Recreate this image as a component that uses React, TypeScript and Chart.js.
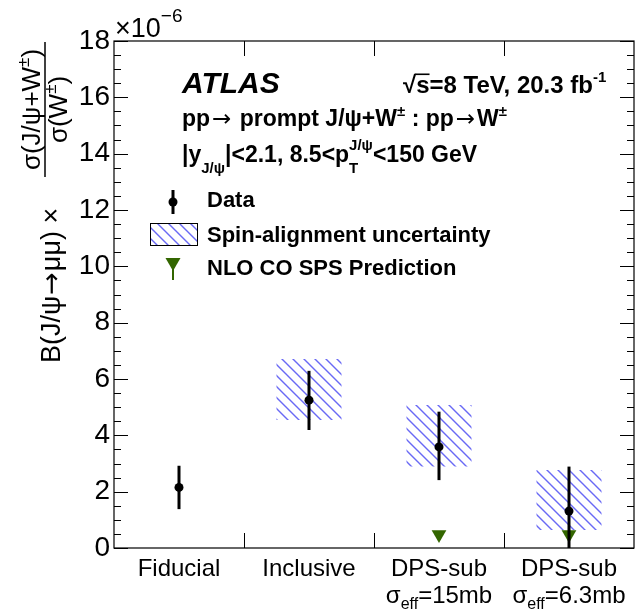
import React, { useEffect, useRef } from 'react';
import { Chart, registerables } from 'chart.js';

Chart.register(...registerables);

// ---------- data ----------
const categoryKeys = ['Fiducial', 'Inclusive', 'DPS15', 'DPS63'];
const labelLine1 = ['Fiducial', 'Inclusive', 'DPS-sub', 'DPS-sub'];
const labelSigmaEff = [null, null, '15mb', '6.3mb'];

const dataValues = [2.15, 5.25, 3.59, 1.31];
const dataErrLow = [1.38, 4.19, 2.41, -0.3];
const dataErrHigh = [2.92, 6.29, 4.84, 2.89];

const spinLow = [null, 4.54, 2.89, 0.64];
const spinHigh = [null, 6.71, 5.08, 2.77];

const nloValues = [null, null, 0.48, 0.48];

const yTickValues = [0, 2, 4, 6, 8, 10, 12, 14, 16, 18];
const yMinorStep = 0.5;

const FONT = '"Liberation Sans", Arial, Helvetica, sans-serif';
const ARROWFONT = '"DejaVu Sans", sans-serif';
const GREEN = '#336600';
const HATCH = 'rgb(105,105,245)';

type Seg = { t: string; size: number; dy?: number; bold?: boolean; italic?: boolean; noAdv?: boolean; over?: boolean; fam?: string; pad?: number };

function drawRich(ctx: CanvasRenderingContext2D, x: number, y: number, segs: Seg[], align: 'left' | 'center' = 'left') {
  const setFont = (s: Seg) => {
    ctx.font = `${s.italic ? 'italic ' : ''}${s.bold ? 'bold ' : ''}${s.size}px ${s.fam || FONT}`;
  };
  let total = 0;
  let pending = 0;
  for (const s of segs) {
    setFont(s);
    const w = ctx.measureText(s.t).width + 2 * (s.pad || 0);
    if (s.noAdv) { pending = w; continue; }
    total += Math.max(w, pending);
    pending = 0;
  }
  let cx = align === 'center' ? x - total / 2 : x;
  pending = 0;
  ctx.textAlign = 'left';
  ctx.textBaseline = 'alphabetic';
  for (const s of segs) {
    setFont(s);
    const w = ctx.measureText(s.t).width + 2 * (s.pad || 0);
    ctx.fillText(s.t, cx + (s.pad || 0), y + (s.dy || 0));
    if (s.over) {
      ctx.save();
      ctx.lineWidth = 1.6;
      ctx.beginPath();
      const oy = y + (s.dy || 0) - s.size * 0.78;
      ctx.moveTo(cx - 1, oy);
      ctx.lineTo(cx + w, oy);
      ctx.stroke();
      ctx.restore();
    }
    if (s.noAdv) { pending = w; continue; }
    cx += Math.max(w, pending);
    pending = 0;
  }
  return total;
}

function makeHatch(): CanvasPattern | string {
  const s = 11;
  const c = document.createElement('canvas');
  c.width = s;
  c.height = s;
  const g = c.getContext('2d');
  if (!g) return HATCH;
  g.strokeStyle = HATCH;
  g.lineWidth = 1.4;
  g.beginPath();
  for (const k of [-s, 0, s]) {
    g.moveTo(k - 1, -1);
    g.lineTo(k + s + 1, s + 1);
  }
  g.stroke();
  return g.createPattern(c, 'repeat') || HATCH;
}

export default function App() {
  const ref = useRef<HTMLCanvasElement | null>(null);

  useEffect(() => {
    if (!ref.current) return;
    const hatch = makeHatch();

    const errorBarPlugin = {
      id: 'errorBars',
      afterDatasetDraw(chart: any, args: any) {
        if (args.index !== 1) return;
        const { ctx, chartArea } = chart;
        const xs = chart.scales.x;
        const ys = chart.scales.y;
        ctx.save();
        ctx.beginPath();
        ctx.rect(chartArea.left, chartArea.top, chartArea.right - chartArea.left, chartArea.bottom - chartArea.top);
        ctx.clip();
        ctx.strokeStyle = '#000';
        ctx.lineWidth = 3;
        for (let i = 0; i < dataValues.length; i++) {
          const px = xs.getPixelForValue(i);
          ctx.beginPath();
          ctx.moveTo(px, ys.getPixelForValue(dataErrLow[i]));
          ctx.lineTo(px, ys.getPixelForValue(dataErrHigh[i]));
          ctx.stroke();
        }
        ctx.restore();
      },
    };

    const decorPlugin = {
      id: 'decor',
      afterDraw(chart: any) {
        const { ctx, chartArea } = chart;
        const { left, right, top, bottom } = chartArea;
        const xs = chart.scales.x;
        const ys = chart.scales.y;
        ctx.save();
        ctx.fillStyle = '#000';
        ctx.strokeStyle = '#000';
        ctx.lineWidth = 1.2;
        ctx.strokeRect(left, top, right - left, bottom - top);
        ctx.beginPath();
        for (let v = ys.min; v <= ys.max + 1e-9; v += yMinorStep) {
          const py = Math.round(ys.getPixelForValue(v)) + 0.5;
          const major = yTickValues.some((t) => Math.abs(t - v) < 1e-6);
          const len = major ? 14 : 7;
          ctx.moveTo(left, py);
          ctx.lineTo(left + len, py);
          ctx.moveTo(right, py);
          ctx.lineTo(right - len, py);
        }
        for (let i = 0; i < categoryKeys.length - 1; i++) {
          const px = Math.round(xs.getPixelForValue(i + 0.5)) + 0.5;
          ctx.moveTo(px, bottom);
          ctx.lineTo(px, bottom - 15);
          ctx.moveTo(px, top);
          ctx.lineTo(px, top + 15);
        }
        ctx.lineWidth = 1;
        ctx.stroke();

        // x labels
        for (let i = 0; i < categoryKeys.length; i++) {
          const px = xs.getPixelForValue(i);
          drawRich(ctx, px, 576, [{ t: labelLine1[i], size: 24 }], 'center');
          const se = labelSigmaEff[i];
          if (se) {
            drawRich(ctx, px, 603, [
              { t: 'σ', size: 24 },
              { t: 'eff', size: 16, dy: 6 },
              { t: '=' + se, size: 24 },
            ], 'center');
          }
        }

        // ×10^-6
        drawRich(ctx, left + 1, 37, [
          { t: '×10', size: 27 },
          { t: '−6', size: 19, dy: -15 },
        ]);

        // y title (rotated)
        ctx.save();
        ctx.translate(0, 363);
        ctx.rotate(-Math.PI / 2);
        drawRich(ctx, 0, 60, [
          { t: 'B(J/ψ', size: 27 },
          { t: '→', size: 27, fam: ARROWFONT, pad: 1 },
          { t: 'μμ) ×', size: 27 },
        ]);
        const u0 = 186, u1 = 321, uc = (u0 + u1) / 2;
        ctx.lineWidth = 1.5;
        ctx.beginPath();
        ctx.moveTo(u0, 45);
        ctx.lineTo(u1, 45);
        ctx.stroke();
        drawRich(ctx, uc, 40, [
          { t: 'σ(J/ψ+W', size: 26 },
          { t: '±', size: 17, dy: -11 },
          { t: ')', size: 26 },
        ], 'center');
        drawRich(ctx, uc, 67, [
          { t: 'σ(W', size: 26 },
          { t: '±', size: 17, dy: -11 },
          { t: ')', size: 26 },
        ], 'center');
        ctx.restore();

        // annotations
        drawRich(ctx, 182, 93, [{ t: 'ATLAS', size: 30, bold: true, italic: true }]);
        drawRich(ctx, 403, 93, [
          { t: '√', size: 24, bold: true },
          { t: 's', size: 24, bold: true, over: true },
          { t: '=8 TeV, 20.3 fb', size: 24, bold: true },
          { t: '-1', size: 15, bold: true, dy: -11 },
        ]);
        drawRich(ctx, 182, 126, [
          { t: 'pp', size: 23, bold: true },
          { t: '→', size: 23, fam: ARROWFONT, pad: 2 },
          { t: ' prompt J/ψ+W', size: 23, bold: true },
          { t: '±', size: 15, bold: true, dy: -10 },
          { t: ' : pp', size: 23, bold: true },
          { t: '→', size: 23, fam: ARROWFONT, pad: 2 },
          { t: 'W', size: 23, bold: true },
          { t: '±', size: 15, bold: true, dy: -10 },
        ]);
        drawRich(ctx, 182, 162, [
          { t: '|y', size: 23, bold: true },
          { t: 'J/ψ', size: 15, bold: true, dy: 11 },
          { t: '|<2.1, 8.5<p', size: 23, bold: true },
          { t: 'T', size: 15, bold: true, dy: 11, noAdv: true },
          { t: 'J/ψ', size: 15, bold: true, dy: -12 },
          { t: '<150 GeV', size: 23, bold: true },
        ]);

        // legend
        ctx.lineWidth = 3;
        ctx.beginPath();
        ctx.moveTo(173, 190);
        ctx.lineTo(173, 214);
        ctx.stroke();
        ctx.beginPath();
        ctx.arc(173, 202, 4.5, 0, Math.PI * 2);
        ctx.fill();
        drawRich(ctx, 207, 207, [{ t: 'Data', size: 22, bold: true }]);
        ctx.fillStyle = hatch as any;
        ctx.fillRect(150, 223, 47, 22);
        ctx.lineWidth = 1;
        ctx.strokeStyle = '#000';
        ctx.strokeRect(150.5, 223.5, 47, 22);
        ctx.fillStyle = '#000';
        drawRich(ctx, 207, 242, [{ t: 'Spin-alignment uncertainty', size: 22, bold: true }]);
        ctx.strokeStyle = GREEN;
        ctx.lineWidth = 2;
        ctx.beginPath();
        ctx.moveTo(173, 258);
        ctx.lineTo(173, 280);
        ctx.stroke();
        ctx.fillStyle = GREEN;
        ctx.beginPath();
        ctx.moveTo(165.5, 258);
        ctx.lineTo(180.5, 258);
        ctx.lineTo(173, 271);
        ctx.closePath();
        ctx.fill();
        ctx.fillStyle = '#000';
        drawRich(ctx, 207, 275, [{ t: 'NLO CO SPS Prediction', size: 22, bold: true }]);

        ctx.restore();
      },
    };

    const chart = new Chart(ref.current, {
      type: 'bar',
      data: {
        labels: categoryKeys,
        datasets: [
          {
            type: 'line',
            label: 'Data',
            data: dataValues,
            showLine: false,
            pointRadius: 4.5,
            pointBackgroundColor: '#000',
            pointBorderColor: '#000',
            pointBorderWidth: 0,
            order: 0,
          } as any,
          {
            type: 'line',
            label: 'NLO CO SPS Prediction',
            data: nloValues,
            showLine: false,
            pointStyle: 'triangle',
            pointRotation: 180,
            pointRadius: 8.5,
            pointBackgroundColor: GREEN,
            pointBorderColor: GREEN,
            pointBorderWidth: 0,
            order: 1,
          } as any,
          {
            type: 'bar',
            label: 'Spin-alignment uncertainty',
            data: spinLow.map((l, i) => (l === null ? null : [l, spinHigh[i] as number])),
            backgroundColor: hatch as any,
            borderWidth: 0,
            barPercentage: 1,
            categoryPercentage: 0.5,
            order: 2,
          } as any,
        ],
      },
      options: {
        animation: false,
        responsive: true,
        maintainAspectRatio: false,
        layout: { padding: { top: 41, right: 10, left: 0, bottom: 0 } },
        plugins: {
          legend: { display: false },
          tooltip: { enabled: false },
          title: { display: false },
        },
        scales: {
          x: {
            type: 'category',
            offset: true,
            grid: { display: false, drawTicks: false },
            border: { display: false },
            ticks: { display: false },
            afterFit: (s: any) => { s.height = 65; },
          },
          y: {
            min: 0,
            max: 18,
            grid: { display: false, drawTicks: false, tickLength: 0 },
            border: { display: false },
            ticks: {
              stepSize: 2,
              color: '#000',
              padding: 4,
              font: { family: FONT, size: 28 },
            },
            afterFit: (s: any) => { s.width = 114; },
          },
        },
      } as any,
      plugins: [errorBarPlugin, decorPlugin],
    });

    return () => chart.destroy();
  }, []);

  return (
    <div style={{ position: 'fixed', left: 0, top: 0, width: 644, height: 613, background: '#fff' }}>
      <canvas ref={ref} />
    </div>
  );
}
